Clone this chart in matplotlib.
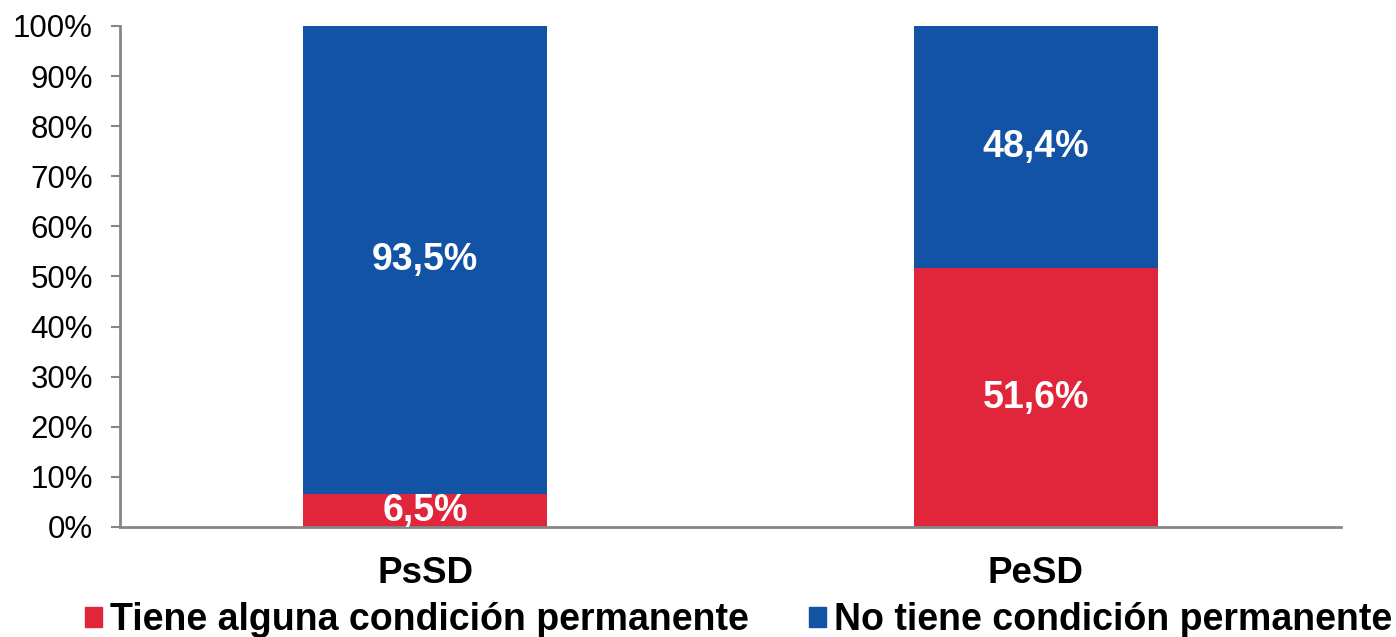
import numpy as np
import matplotlib.pyplot as plt
from matplotlib.patches import Patch

plt.rcParams['font.family'] = ['Liberation Sans', 'DejaVu Sans']

categorias = ['PsSD', 'PeSD']
con_condicion = [6.5, 51.6]
sin_condicion = [93.5, 48.4]
series = ['Tiene alguna condición permanente', 'No tiene condición permanente']
colores = ['#E1253A', '#1353A5']

fig = plt.figure(figsize=(13.96, 6.37), dpi=100)
ax = fig.add_axes([0.086, 0.1727, 0.8747, 0.7865])

x = np.arange(len(categorias))
b1 = ax.bar(x, con_condicion, width=0.4, color=colores[0])
b2 = ax.bar(x, sin_condicion, width=0.4, bottom=con_condicion, color=colores[1])

for i in range(len(categorias)):
    ax.text(x[i], con_condicion[i] / 2, f'{con_condicion[i]:.1f}%'.replace('.', ','),
            ha='center', va='center', color='white', fontsize=27, fontweight='bold')
    ax.text(x[i], con_condicion[i] + sin_condicion[i] / 2, f'{sin_condicion[i]:.1f}%'.replace('.', ','),
            ha='center', va='center', color='white', fontsize=27, fontweight='bold')

ax.set_xlim(-0.5, 1.5)
ax.set_ylim(0, 100)
ax.set_yticks(np.arange(0, 101, 10))
ax.set_yticklabels([f'{v}%' for v in range(0, 101, 10)], fontsize=22.5)
ax.set_xticks(x)
ax.set_xticklabels(categorias, fontsize=26.5, fontweight='bold')
ax.tick_params(axis='x', length=0, pad=21)
ax.tick_params(axis='y', length=6.5, width=1.5, color='#868686', pad=13)
for s in ['top', 'right']:
    ax.spines[s].set_visible(False)
for s in ['left', 'bottom']:
    ax.spines[s].set_color('#868686')
    ax.spines[s].set_linewidth(2)

handles = [Patch(color=colores[0]), Patch(color=colores[1])]
leg = fig.legend(handles, series, loc='center', bbox_to_anchor=(0.529, 0.026), ncol=2,
                 frameon=False, prop={'size': 27, 'weight': 'bold'},
                 handlelength=0.45, handleheight=0.45, handletextpad=0.22,
                 columnspacing=1.6, borderpad=0)

fig.savefig('out.png', dpi=100)
